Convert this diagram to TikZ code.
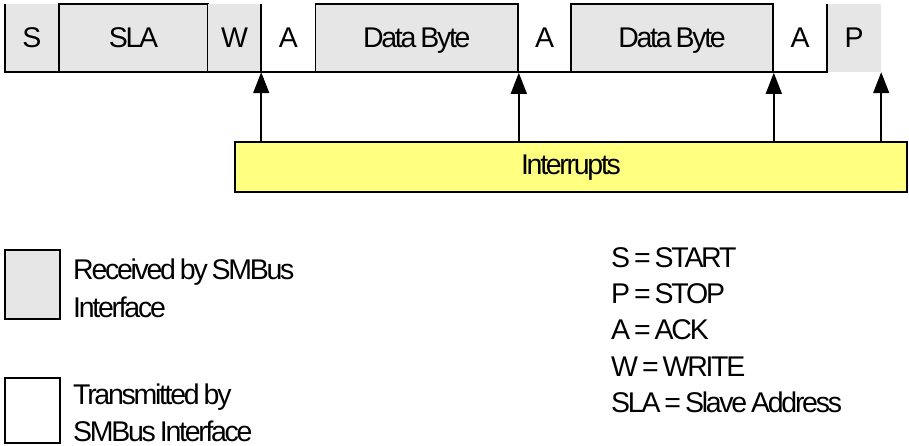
\documentclass[tikz,border=0pt]{standalone}
\usepackage{fontspec}
\setmainfont{Liberation Sans}[LetterSpace=-8, WordSpace=0.7]
\usetikzlibrary{arrows.meta}
\definecolor{recvgray}{HTML}{E6E6E6}
\definecolor{intyellow}{HTML}{FFFF80}
\begin{document}
\begin{tikzpicture}[x=1pt,y=-1pt,
  seg/.style={minimum height=68pt, inner sep=0pt, text height=20pt, text depth=0pt,
              font=\fontsize{28.5}{33}\selectfont},
  recv/.style={seg, fill=recvgray},
  recvbox/.style={recv, draw, line width=1.6pt},
  xmit/.style={seg},
  frameline/.style={line width=1.6pt},
  arr/.style={line width=1.5pt, -{Triangle[length=21pt,width=16pt]}},
  legbox/.style={draw, line width=1.8pt},
  legtext/.style={anchor=base west, align=left, inner sep=0pt}]
\useasboundingbox (0,0) rectangle (909,446);

% top row
\node[recv, minimum width=54pt] (s) at (32,38) {S};
\node[recvbox, minimum width=149pt] (sla) at (133.5,38) {SLA};
\node[recv, minimum width=53pt] (w) at (234.5,38) {W};
\node[xmit, minimum width=54.5pt] (a1) at (288.25,38) {A};
\node[recvbox, minimum width=202.5pt] (db1) at (416.75,38) {Data Byte};
\node[xmit, minimum width=53pt] (a2) at (544.5,38) {A};
\node[recvbox, minimum width=202pt] (db2) at (672,38) {Data Byte};
\node[xmit, minimum width=54pt] (a3) at (800,38) {A};
\node[recv, minimum width=54pt] (p) at (854,38) {P};

\draw[frameline] (s.north west) -- (s.south west) -- (a3.south east) -- (a3.north east);
\draw[frameline] (w.north east) -- (w.south east);

% interrupts
\node[draw, line width=1.8pt, fill=intyellow, minimum width=672pt, minimum height=50pt,
      inner sep=0pt, text height=20pt, text depth=4.5pt,
      font=\fontsize{28.5}{33}\selectfont] (intr) at (571,166.7) {Interrupts};

\draw[arr] (intr.north -| w.south east) -- (w.south east);
\draw[arr] (intr.north -| db1.south east) -- (db1.south east);
\draw[arr] (intr.north -| db2.south east) -- (db2.south east);
\draw[arr] (intr.north -| p.south east) -- (p.south east);

% legend
\node[legbox, fill=recvgray, minimum width=55pt, minimum height=69pt] (lrecv) at (32.5,284.5) {};
\node[legbox, minimum width=55pt, minimum height=65pt] (lxmit) at (32.5,410.5) {};
\node[legtext, font=\fontsize{28.5}{38}\selectfont] (lrecvtxt) at (73,317.7) {Received by SMBus\\Interface};
\node[legtext, font=\fontsize{28.5}{37}\selectfont] (lxmittxt) at (73,441.7) {Transmitted by\\SMBus Interface};

\node[legtext, font=\fontsize{28.5}{36.4}\selectfont] (abbr) at (611,412.7)
  {S = START\\P = STOP\\A = ACK\\W = WRITE\\SLA = Slave Address};
\end{tikzpicture}
\end{document}
